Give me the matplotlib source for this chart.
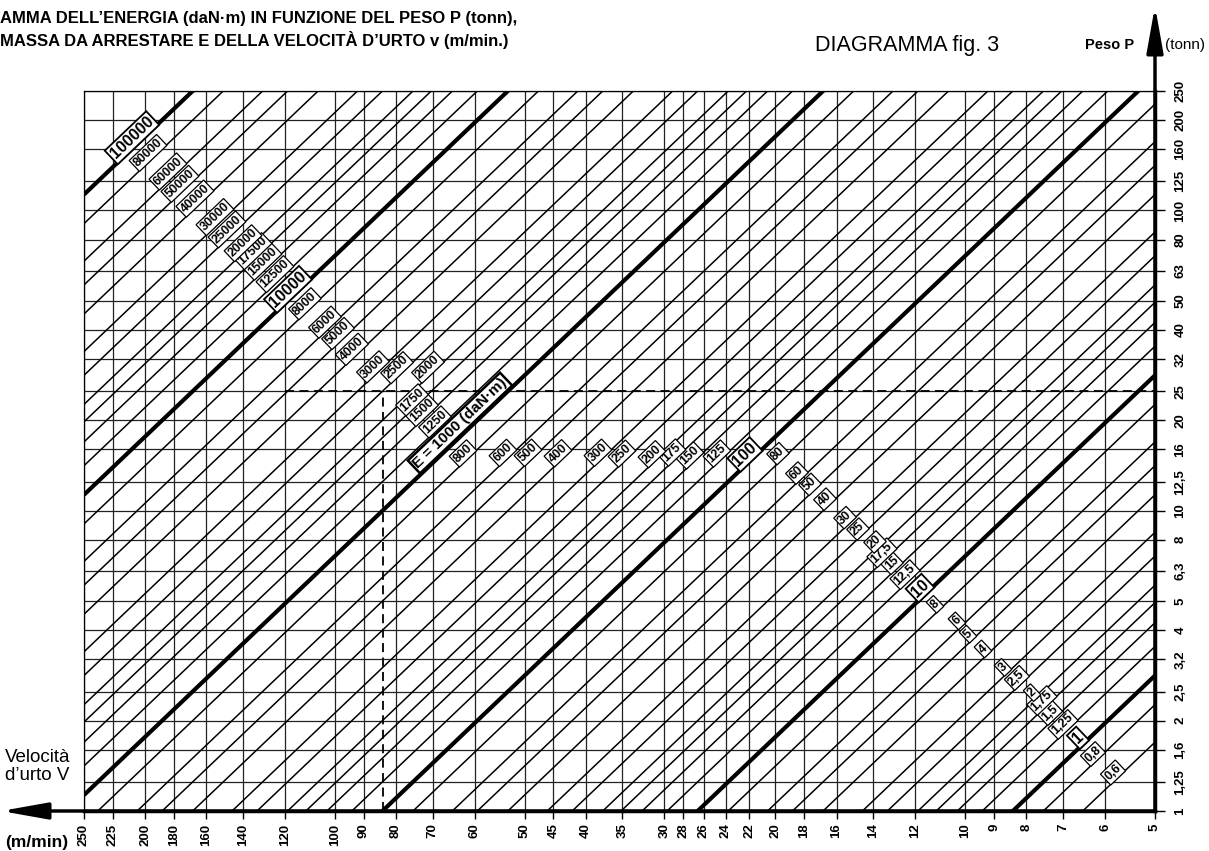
import numpy as np
import matplotlib
matplotlib.use("Agg")
import matplotlib.pyplot as plt
from matplotlib.patches import FancyArrowPatch

plt.rcParams['font.family'] = ['Liberation Sans Narrow', 'Liberation Sans', 'DejaVu Sans']
WIDE = ['Liberation Sans', 'DejaVu Sans']

# axis scales: impact velocity v (m/min) and weight P (tonn)
v_ticks = [250, 225, 200, 180, 160, 140, 120, 100, 90, 80, 70, 60, 50, 45, 40, 35,
           30, 28, 26, 24, 22, 20, 18, 16, 14, 12, 10, 9, 8, 7, 6, 5]
p_ticks = [1, 1.25, 1.6, 2, 2.5, 3.2, 4, 5, 6.3, 8, 10, 12.5, 16, 20, 25, 32, 40,
           50, 63, 80, 100, 125, 160, 200, 250]
p_labels = ['1', '1,25', '1,6', '2', '2,5', '3,2', '4', '5', '6,3', '8', '10', '12,5',
            '16', '20', '25', '32', '40', '50', '63', '80', '100', '125', '160', '200', '250']

# energy lines E (daN.m)
energies = [0.6, 0.8, 1, 1.25, 1.5, 1.75, 2, 2.5, 3, 4, 5, 6, 8,
            10, 12.5, 15, 17.5, 20, 25, 30, 40, 50, 60, 80,
            100, 125, 150, 175, 200, 250, 300, 400, 500, 600, 800,
            1000, 1250, 1500, 1750, 2000, 2500, 3000, 4000, 5000, 6000, 8000,
            10000, 12500, 15000, 17500, 20000, 25000, 30000, 40000, 50000, 60000, 80000,
            100000]
thick_energies = [1, 10, 100, 1000, 10000, 100000]
K = 2 * 9.81 * 3.6   # E = P * v^2 / K

# worked example shown with dashed lines
example_v = 84
example_p = 25

# where each energy label sits (axes fraction along x), same order as energies
label_frac = [0.9608, 0.9421, 0.9281, 0.9141, 0.9020, 0.8945, 0.8852, 0.8711, 0.8581,
              0.8394, 0.8254, 0.8151, 0.7946,
              0.7806, 0.7666, 0.7544, 0.7451, 0.7386, 0.7227, 0.7106, 0.6919, 0.6779,
              0.6657, 0.6480,
              0.6172, 0.5910, 0.5658, 0.5490, 0.5303, 0.5023, 0.4799, 0.4426, 0.4146,
              0.3912, 0.3539,
              0.3511, 0.3277, 0.3156, 0.3063, 0.3212, 0.2923, 0.2698, 0.2502, 0.2372,
              0.2250, 0.2063,
              0.1905, 0.1783, 0.1671, 0.1578, 0.1485, 0.1335, 0.1223, 0.1036, 0.0896,
              0.0784, 0.0598,
              0.0448]


def fmt(e):
    if float(e).is_integer():
        return str(int(e))
    return str(e).replace('.', ',')


W, H = 1209, 851
fig = plt.figure(figsize=(W / 100, H / 100), dpi=100)
x0, x1, y0, y1 = 84, 1155, 91, 811
ax = fig.add_axes([x0 / W, 1 - y1 / H, (x1 - x0) / W, (y1 - y0) / H])
ax.set_xscale('log')
ax.set_yscale('log')
ax.set_xlim(250, 5)
ax.set_ylim(1, 250)

# grid
for v in v_ticks:
    ax.axvline(v, color='#222222', lw=0.9, zorder=1)
for p in p_ticks:
    ax.axhline(p, color='#222222', lw=0.9, zorder=1)

# energy lines
vv = np.array([250.0, 5.0])
for e in energies:
    lw = 3.0 if e in thick_energies else 1.1
    ax.plot(vv, e * K / vv ** 2, color='black', lw=lw, zorder=2, solid_capstyle='butt')

# example dashed lines
ax.plot([120, 5], [example_p, example_p], color='black', lw=1.3, ls=(0, (5, 3)), zorder=3)
ax.plot([example_v, example_v], [1, example_p], color='black', lw=1.3, ls=(0, (5, 3)), zorder=3)

# line angle on screen
pa = ax.transData.transform((250, 1000 * K / 250 ** 2))
pb = ax.transData.transform((5, 1000 * K / 25))
theta = np.arctan2(pb[1] - pa[1], pb[0] - pa[0])
ang = np.degrees(theta)
inv = ax.transData.inverted()

for e, f in zip(energies, label_frac):
    big = e in thick_energies
    if e == 1000:
        txt, fs, d, blw = 'E = 1000 (daN·m)', 11, 10, 1.8
    elif big:
        txt, fs, d, blw = fmt(e), 11.5, 8, 1.3
    else:
        txt, fs, d, blw = fmt(e), 9, 7, 0.9
    cx = ax.transAxes.transform((f, 0))[0]
    foot_x = cx + d * np.sin(theta)
    v = inv.transform((foot_x, 0))[0]
    p = e * K / v ** 2
    ax.annotate(txt, xy=(v, p), xytext=(-d * np.sin(theta), d * np.cos(theta)),
                textcoords='offset pixels', ha='center', va='center',
                rotation=ang, rotation_mode='anchor', fontsize=fs, fontweight='bold',
                family=WIDE,
                bbox=dict(boxstyle='square,pad=0.12', fc='white', ec='black', lw=blw),
                zorder=5, annotation_clip=False)

# ticks
ax.set_xticks(v_ticks)
ax.set_xticklabels([str(v) for v in v_ticks], rotation=90, fontweight='bold', fontsize=9.5)
ax.xaxis.set_minor_locator(matplotlib.ticker.NullLocator())
ax.yaxis.tick_right()
ax.set_yticks(p_ticks)
ax.set_yticklabels(p_labels, rotation=90, fontweight='bold', fontsize=9.5, va='center')
ax.yaxis.set_minor_locator(matplotlib.ticker.NullLocator())
ax.tick_params(axis='x', direction='out', length=6, width=1, pad=3)
ax.tick_params(axis='y', direction='out', length=7, width=1, pad=7)

for s in ['left', 'top']:
    ax.spines[s].set_linewidth(0.9)
for s in ['right', 'bottom']:
    ax.spines[s].set_linewidth(2.5)


def fp(x, y):
    return (x / W, 1 - y / H)


# axis arrows
for a, b in [((x1, y1), (1, y1)), ((x1, y1), (x1, 6))]:
    fig.add_artist(FancyArrowPatch(fp(*a), fp(*b), transform=fig.transFigure,
                                   arrowstyle='-|>,head_length=28,head_width=5',
                                   mutation_scale=1, lw=2.5, color='black',
                                   shrinkA=0, shrinkB=0))

# texts
fig.text(*fp(0, 18), 'AMMA DELL’ENERGIA (daN·m) IN FUNZIONE DEL PESO P (tonn),',
         fontsize=12, fontweight='bold', va='center', ha='left')
fig.text(*fp(0, 40), 'MASSA DA ARRESTARE E DELLA VELOCITÀ D’URTO v (m/min.)',
         fontsize=12, fontweight='bold', va='center', ha='left')
fig.text(*fp(815, 46), 'DIAGRAMMA fig. 3', fontsize=15.5, va='center', ha='left', family=WIDE)
fig.text(*fp(1085, 45), 'Peso P', fontsize=10.5, fontweight='bold', va='center', ha='left')
fig.text(*fp(1165, 45), '(tonn)', fontsize=11, va='center', ha='left')
fig.text(*fp(5, 757), 'Velocità', fontsize=13.5, va='center', ha='left', family=WIDE)
fig.text(*fp(5, 775), 'd’urto V', fontsize=13.5, va='center', ha='left', family=WIDE)
fig.text(*fp(5, 843), '(m/min)', fontsize=12.5, fontweight='bold', va='center', ha='left',
         family=WIDE)

fig.savefig('out.png', dpi=100)
